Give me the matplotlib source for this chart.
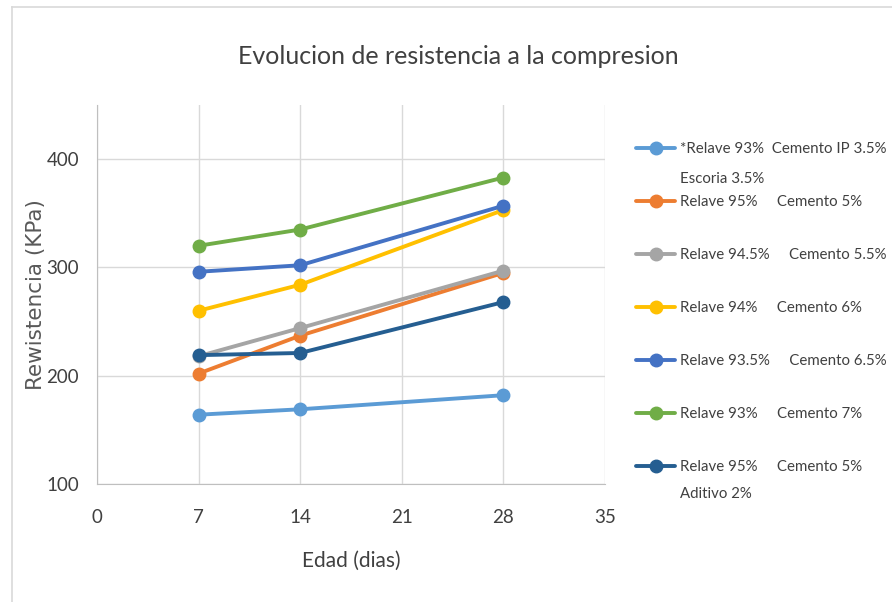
import matplotlib
matplotlib.use("Agg")
import matplotlib.pyplot as plt
from matplotlib.lines import Line2D

# --- Data ---
dias = [7, 14, 28]
series_labels = [
    "*Relave 93%  Cemento IP 3.5%\nEscoria 3.5%",
    "Relave 95%     Cemento 5%",
    "Relave 94.5%     Cemento 5.5%",
    "Relave 94%     Cemento 6%",
    "Relave 93.5%     Cemento 6.5%",
    "Relave 93%     Cemento 7%",
    "Relave 95%     Cemento 5%\nAditivo 2%",
]
resistencia = [
    [164, 169, 182],
    [202, 237, 295],
    [218, 244, 297],
    [260, 284, 353],
    [296, 302, 357],
    [320, 335, 383],
    [219, 221, 268],
]
colors = ["#5B9BD5", "#ED7D31", "#A5A5A5", "#FFC000", "#4472C4", "#70AD47", "#255E91"]
x_ticks = [0, 7, 14, 21, 28, 35]
y_ticks = [100, 200, 300, 400]

plt.rcParams['font.family'] = ['Lato', 'DejaVu Sans']
text_color = "#404040"
W, H = 892, 602

fig = plt.figure(figsize=(8.92, 6.02), dpi=100)
ax = fig.add_axes([97 / W, 1 - 484 / H, (605 - 97) / W, (484 - 105) / H])

for vals, color, label in zip(resistencia, colors, series_labels):
    # legend shows the first line, continuation lines are placed below
    ax.plot(dias, vals, color=color, linewidth=2.8, marker='o', markersize=9,
            label=label.split("\n")[0], solid_capstyle='round')

ax.set_xlim(0, 35)
ax.set_ylim(100, 450)
ax.set_xticks(x_ticks)
ax.set_yticks(y_ticks)
ax.tick_params(axis='both', length=0, labelsize=13.5, colors=text_color)
ax.tick_params(axis='x', pad=18)
ax.tick_params(axis='y', pad=13)
ax.grid(True, color="#D9D9D9", linewidth=1)
ax.set_axisbelow(True)
for side in ['top', 'right']:
    ax.spines[side].set_visible(False)
for side in ['left', 'bottom']:
    ax.spines[side].set_color("#BFBFBF")

ax.set_xlabel("Edad (dias)", fontsize=15, color=text_color, labelpad=18)
ax.set_ylabel("Rewistencia (KPa)", fontsize=15.5, color="#595959",
              family="DejaVu Sans", labelpad=0)
fig.text(458 / W, 1 - 57 / H, "Evolucion de resistencia a la compresion",
         ha='center', va='center', fontsize=18, color=text_color)

leg = ax.legend(loc='upper left', bbox_to_anchor=(636 / W, 1 - 142 / H),
                bbox_transform=fig.transFigure, frameon=False, fontsize=10.8,
                handlelength=2.6, handletextpad=0.35, labelspacing=2.6,
                labelcolor=text_color, borderpad=0, borderaxespad=0)

# second lines of the two-line legend entries
fig.text(680 / W, 1 - 179 / H, series_labels[0].split("\n")[1],
         ha='left', va='center', fontsize=10.8, color=text_color)
fig.text(680 / W, 1 - 494 / H, series_labels[6].split("\n")[1],
         ha='left', va='center', fontsize=10.8, color=text_color)

# outer chart border (top and left visible)
fig.add_artist(Line2D([12 / W, 1], [1 - 7 / H, 1 - 7 / H],
                      transform=fig.transFigure, color="#D9D9D9", linewidth=1.2))
fig.add_artist(Line2D([12 / W, 12 / W], [0, 1 - 7 / H],
                      transform=fig.transFigure, color="#D9D9D9", linewidth=1.2))

fig.savefig("out.png", dpi=100)
